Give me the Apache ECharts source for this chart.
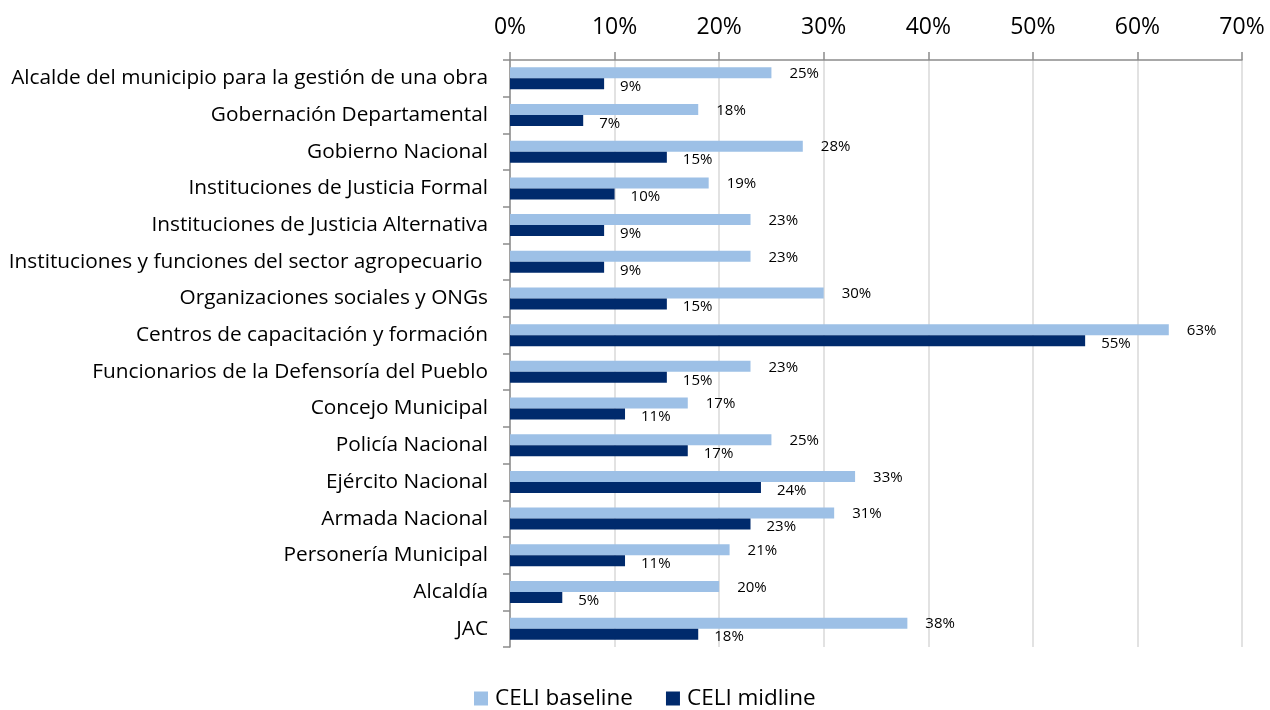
<!DOCTYPE html>
<html>
<head>
<meta charset="utf-8">
<script src="https://cdn.jsdelivr.net/npm/echarts@6/dist/echarts.min.js"></script>
<style>
  html, body { margin: 0; padding: 0; background: #fff; }
  #chart { width: 1270px; height: 710px; }
</style>
</head>
<body>
<div id="chart"></div>
<script>
// Institutions, listed top to bottom
const categories = [
  'Alcalde del municipio para la gestión de una obra',
  'Gobernación Departamental',
  'Gobierno Nacional',
  'Instituciones de Justicia Formal',
  'Instituciones de Justicia Alternativa',
  'Instituciones y funciones del sector agropecuario ',
  'Organizaciones sociales y ONGs',
  'Centros de capacitación y formación',
  'Funcionarios de la Defensoría del Pueblo',
  'Concejo Municipal',
  'Policía Nacional',
  'Ejército Nacional',
  'Armada Nacional',
  'Personería Municipal',
  'Alcaldía',
  'JAC'
];

// Percentages per institution
const baseline = [25, 18, 28, 19, 23, 23, 30, 63, 23, 17, 25, 33, 31, 21, 20, 38];
const midline  = [9, 7, 15, 10, 9, 9, 15, 55, 15, 11, 17, 24, 23, 11, 5, 18];

const seriesNames = ['CELI baseline', 'CELI midline'];
const tickValues = [0, 10, 20, 30, 40, 50, 60, 70];

const FONT = '"Open Sans", "Noto Sans", sans-serif';
const chart = echarts.init(document.getElementById('chart'));

chart.setOption({
  animation: false,
  textStyle: { fontFamily: FONT },
  grid: { left: 510, right: 28, top: 60, bottom: 63, containLabel: false },
  legend: {
    bottom: -5,
    left: 469,
    itemWidth: 14,
    itemHeight: 14,
    itemGap: 33,
    icon: 'rect',
    textStyle: { fontSize: 22.5, color: '#000', fontFamily: FONT, padding: [0, 0, 0, 2] },
    data: seriesNames
  },
  xAxis: {
    type: 'value',
    position: 'top',
    min: tickValues[0],
    max: tickValues[tickValues.length - 1],
    interval: 10,
    axisLine: { show: true, lineStyle: { color: '#8c8c8c', width: 1.5 } },
    axisTick: { show: true, length: 8, lineStyle: { color: '#8c8c8c', width: 1.5 } },
    splitLine: { show: true, lineStyle: { color: '#d9d9d9', width: 1.5 } },
    axisLabel: {
      fontSize: 23, color: '#000', margin: 21,
      formatter: v => v + '%'
    }
  },
  yAxis: {
    type: 'category',
    inverse: true,
    data: categories,
    axisLine: { show: true, lineStyle: { color: '#8c8c8c', width: 1.5 } },
    axisTick: { show: true, length: 7, lineStyle: { color: '#8c8c8c', width: 1.5 } },
    axisLabel: { fontSize: 20.8, color: '#000', margin: 22 }
  },
  series: [
    {
      name: seriesNames[0],
      type: 'bar',
      data: baseline,
      barWidth: 11,
      barGap: '0%',
      itemStyle: { color: '#9dc0e6' },
      label: {
        show: true, position: 'right', distance: 18, offset: [0, 1],
        fontSize: 15, color: '#000', fontFamily: FONT,
        formatter: p => p.value + '%'
      }
    },
    {
      name: seriesNames[1],
      type: 'bar',
      data: midline,
      barWidth: 11,
      itemStyle: { color: '#002a6c' },
      label: {
        show: true, position: 'right', distance: 16, offset: [0, 3],
        fontSize: 15, color: '#000', fontFamily: FONT,
        formatter: p => p.value + '%'
      }
    }
  ]
});
</script>
</body>
</html>
